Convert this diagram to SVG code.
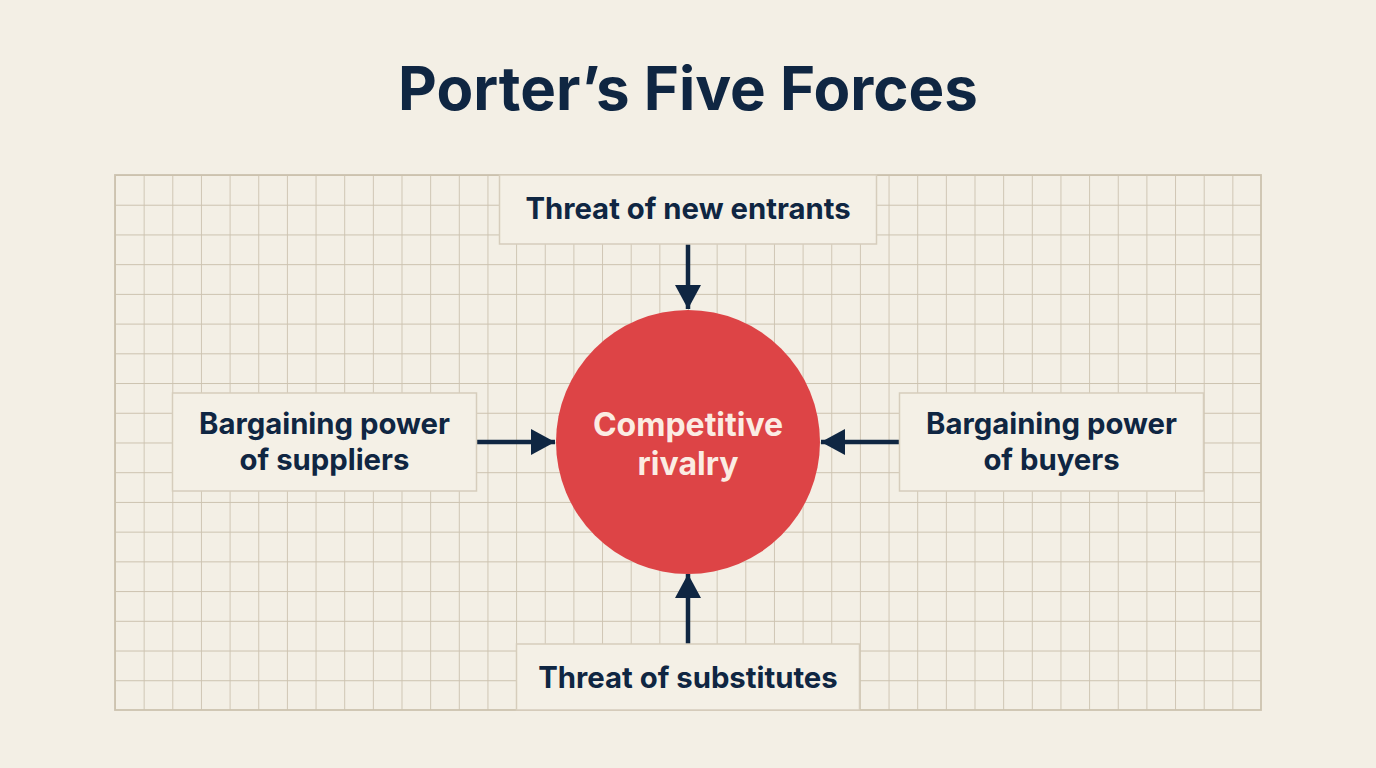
<svg xmlns="http://www.w3.org/2000/svg" width="1376" height="768" viewBox="0 0 1376 768">
  <style>
    .box { fill: #F4F0E6; stroke: #D6CDBC; stroke-width: 1.5; }
    .lbl { font-family: Inter, "Liberation Sans", sans-serif; font-weight: 700; font-size: 29.3px; fill: #0F2642; text-anchor: middle; }
    .ctr { font-family: Inter, "Liberation Sans", sans-serif; font-weight: 700; font-size: 32px; fill: #FBECE3; text-anchor: middle; }
    .title { font-family: Inter, "Liberation Sans", sans-serif; font-weight: 700; font-size: 60px; fill: #0F2642; text-anchor: middle; }
    .conn { stroke: #0F2642; stroke-width: 4.5; fill: none; }
  </style>
  <defs>
    <pattern id="grid" x="115" y="175" width="28.65" height="29.72" patternUnits="userSpaceOnUse">
      <path d="M0 0H28.65M0 0V29.72" stroke="#CCC2AF" stroke-width="1.8" fill="none"/>
    </pattern>
    <marker id="arr" viewBox="0 0 24 26" refX="24" refY="13" markerWidth="24" markerHeight="26" markerUnits="userSpaceOnUse" orient="auto">
      <path d="M0 0L24 13L0 26Z" fill="#0F2642"/>
    </marker>
  </defs>
  <rect width="1376" height="768" fill="#F3EFE5"/>
  <g id="grid-bg">
    <rect x="115" y="175" width="1146" height="535" fill="url(#grid)" stroke="#CCC2AF" stroke-width="1.8"/>
  </g>
  <text class="title" x="688" y="110">Porter’s Five Forces</text>
  <g id="connectors">
    <line class="conn" x1="688" y1="244" x2="688" y2="309" marker-end="url(#arr)"/>
    <line class="conn" x1="688" y1="644" x2="688" y2="574" marker-end="url(#arr)"/>
    <line class="conn" x1="476" y1="442" x2="555" y2="442" marker-end="url(#arr)"/>
    <line class="conn" x1="899" y1="442" x2="821" y2="442" marker-end="url(#arr)"/>
  </g>
  <g id="rivalry">
    <circle cx="688" cy="442" r="132" fill="#DD4446"/>
    <text class="ctr" x="688" y="436">Competitive</text>
    <text class="ctr" x="688" y="475">rivalry</text>
  </g>
  <g id="new-entrants">
    <rect class="box" x="499.5" y="175" width="377" height="69"/>
    <text class="lbl" x="688" y="219">Threat of new entrants</text>
  </g>
  <g id="suppliers">
    <rect class="box" x="172.5" y="393" width="304" height="98"/>
    <text class="lbl" x="324.5" y="434">Bargaining power</text>
    <text class="lbl" x="324.5" y="470">of suppliers</text>
  </g>
  <g id="buyers">
    <rect class="box" x="899.5" y="393" width="304" height="98"/>
    <text class="lbl" x="1051.5" y="434">Bargaining power</text>
    <text class="lbl" x="1051.5" y="470">of buyers</text>
  </g>
  <g id="substitutes">
    <rect class="box" x="516.5" y="644" width="343" height="66"/>
    <text class="lbl" x="688" y="688">Threat of substitutes</text>
  </g>
</svg>
